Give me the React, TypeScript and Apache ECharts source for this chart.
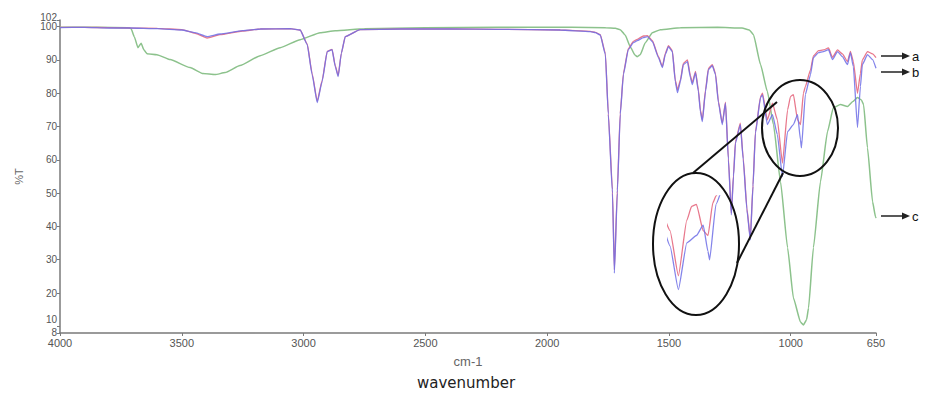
import React, { useEffect, useRef } from "react";
import * as echarts from "echarts";

// FTIR transmittance spectra: wavenumber (cm-1) vs %T
const xTicks = [4000, 3500, 3000, 2500, 2000, 1500, 1000, 650];
const yTicks = [10, 20, 30, 40, 50, 60, 70, 80, 90, 100];
const yEndTicks = [8, 102];

// spectrum a (red)
const seriesA: [number, number][] = [
  [4000, 99.8], [3900, 99.8], [3800, 99.7], [3712, 99.6], [3600, 99.5], [3500, 99.1],
  [3445, 98.0], [3396, 96.6], [3343, 97.6], [3250, 98.7], [3178, 99.3], [3055, 99.4],
  [3014, 99.0], [2985, 94.8], [2965, 86], [2944, 77.6], [2924, 83.8], [2903, 92.6],
  [2883, 93.2], [2870, 88.3], [2858, 85.3], [2845, 92], [2829, 97.0], [2768, 99.1],
  [2600, 99.3], [2398, 99.3], [2200, 99.2], [1946, 99.0], [1823, 98.6], [1802, 98.3],
  [1782, 97.6], [1761, 92], [1749, 74], [1732, 51], [1724, 27], [1712, 51], [1700, 74],
  [1687, 86], [1667, 93.4], [1646, 95.6], [1630, 96.2], [1605, 97.2], [1588, 97.3],
  [1568, 95.8], [1543, 91], [1527, 88], [1515, 92], [1502, 94.3], [1486, 92.8],
  [1474, 84], [1465, 81], [1453, 84], [1441, 89], [1424, 90], [1412, 85.3], [1404, 83.2],
  [1391, 86.6], [1379, 81], [1371, 75], [1363, 72], [1350, 81], [1338, 87.5], [1322, 88.6],
  [1309, 86], [1297, 77.6], [1281, 71], [1268, 77.3], [1256, 60.5], [1244, 44],
  [1235, 55.5], [1227, 65.5], [1207, 71], [1195, 60.5], [1180, 45.5], [1166, 36.5],
  [1155, 52.5], [1145, 68.5], [1124, 79], [1116, 80], [1096, 72], [1075, 77], [1055, 72],
  [1034, 59], [1013, 75], [1001, 79], [989, 79.6], [972, 72], [960, 70.6], [948, 80],
  [940, 82], [919, 87], [907, 91.2], [886, 92.8], [866, 93], [845, 93.6], [829, 90.8],
  [808, 93], [788, 91.8], [767, 89.5], [755, 92.6], [743, 89.5], [726, 80], [714, 86],
  [706, 90], [685, 92.5], [664, 91.8], [650, 90.7],
];

// spectrum b (blue)
const seriesB: [number, number][] = [
  [4000, 99.7], [3900, 99.8], [3800, 99.6], [3712, 99.6], [3600, 99.4], [3500, 99.0],
  [3445, 98.2], [3396, 97.0], [3343, 97.8], [3250, 98.8], [3178, 99.3], [3055, 99.4],
  [3014, 99.0], [2985, 94.6], [2965, 85.6], [2944, 77.2], [2924, 83.5], [2903, 92.5],
  [2883, 93.1], [2870, 88], [2858, 85.0], [2845, 92], [2829, 97.0], [2768, 99.1],
  [2600, 99.3], [2398, 99.3], [2200, 99.2], [1946, 99.0], [1823, 98.5], [1802, 98.2],
  [1782, 97.5], [1761, 91.6], [1749, 73.6], [1732, 50], [1724, 26.0], [1712, 50],
  [1700, 73.6], [1687, 85.6], [1667, 93.1], [1646, 95.2], [1630, 95.8], [1605, 96.7],
  [1588, 97.0], [1568, 95.5], [1543, 90.7], [1527, 87.7], [1515, 91.6], [1502, 94.0],
  [1486, 92.5], [1474, 83.5], [1465, 80.2], [1453, 83.5], [1441, 88.6], [1424, 89.5],
  [1412, 84.7], [1404, 82.6], [1391, 86.2], [1379, 80.5], [1371, 74.5], [1363, 71.5],
  [1350, 80.5], [1338, 87.1], [1322, 88.3], [1309, 85.6], [1297, 77.2], [1281, 70.6],
  [1268, 77.0], [1256, 60], [1244, 43.5], [1235, 55], [1227, 65], [1207, 70.6],
  [1195, 60], [1180, 45], [1166, 36.0], [1155, 52], [1145, 68], [1124, 78.7],
  [1116, 79.5], [1096, 70.6], [1075, 73.6], [1055, 67.6], [1034, 55], [1013, 68.5],
  [989, 70.6], [972, 73.6], [960, 66], [956, 63.6], [940, 79.6], [919, 85.6],
  [907, 90.7], [886, 92.2], [866, 92.5], [845, 93.1], [829, 90.1], [808, 92.5],
  [788, 91.0], [767, 88.6], [755, 92.2], [743, 88], [726, 69.7], [714, 82], [706, 88.6],
  [685, 91.6], [664, 90.1], [650, 87.5],
];

// spectrum c (green)
const seriesC: [number, number][] = [
  [4000, 99.8], [3850, 99.8], [3720, 99.7], [3708, 99.4], [3695, 97], [3680, 93.7],
  [3667, 95], [3655, 93], [3643, 91.9], [3602, 91.6], [3548, 90.1], [3466, 87.7],
  [3413, 85.9], [3363, 85.6], [3322, 86.2], [3261, 88.3], [3178, 91.3], [3096, 93.7],
  [3014, 96.1], [2932, 98.2], [2870, 98.8], [2750, 99.4], [2500, 99.7], [2200, 99.8],
  [1900, 99.8], [1760, 99.7], [1720, 99.5], [1700, 99.1], [1680, 97.5], [1659, 94.0],
  [1640, 91.5], [1630, 91.0], [1618, 91.6], [1597, 95.2], [1568, 98.2], [1535, 99.1],
  [1453, 99.7], [1300, 99.8], [1200, 99.6], [1170, 99.0], [1153, 97.6], [1124, 88.6],
  [1096, 80.5], [1071, 70.6], [1042, 53.4], [1013, 33.6], [989, 18.5], [960, 11.3],
  [948, 10.4], [935, 12], [927, 15.5], [907, 33.6], [878, 53.4], [849, 68.5],
  [825, 75.7], [796, 76.6], [767, 76], [745, 77.5], [726, 78.7], [710, 78], [701, 76.6],
  [685, 63.6], [664, 47.4], [652, 42.9], [650, 42.5],
];

// wavenumber window magnified inside the large ellipse
const insetRange = [930, 1060];
const insetT = [52, 82];

const RED = "#e8788c";
const BLUE = "#6e6ee6";
const GREEN = "#8cc28c";
const AXIS = "#7a7a7a";
const LABEL = "#555";
const FONT = "'Liberation Sans', Arial, sans-serif";

function arrow(y: number, label: string) {
  return [
    { type: "line", shape: { x1: 881, y1: y, x2: 903, y2: y }, style: { stroke: "#222", lineWidth: 1.5 } },
    { type: "polygon", shape: { points: [[902, y - 3.5], [910, y], [902, y + 3.5]] }, style: { fill: "#222" } },
    {
      type: "text", x: 912, y,
      style: { text: label, fill: "#111", font: `13px ${FONT}`, verticalAlign: "middle", align: "left" },
    },
  ];
}

export default function App() {
  const ref = useRef<HTMLDivElement>(null);

  useEffect(() => {
    if (!ref.current) return;
    const chart = echarts.init(ref.current, undefined, { renderer: "svg" });

    const line = (name: string, data: [number, number][], color: string, width: number, xi = 0, yi = 0, opacity = 1) => ({
      name,
      type: "line",
      data,
      xAxisIndex: xi,
      yAxisIndex: yi,
      showSymbol: false,
      symbol: "none",
      clip: true,
      smooth: 0.15,
      smoothMonotone: "x",
      lineStyle: { color, width, opacity },
      z: 2,
    });

    const labelStyle = { color: LABEL, fontSize: 10, fontFamily: FONT };

    chart.setOption({
      animation: false,
      grid: [
        { left: 60, right: 49, top: 20, bottom: 61 },
        { left: 668, top: 196, width: 52, height: 104 },
      ],
      xAxis: [
        {
          type: "value",
          inverse: true,
          min: 650,
          max: 4000,
          name: "cm-1",
          nameLocation: "middle",
          nameGap: 22,
          nameTextStyle: { color: "#666", fontSize: 13, fontFamily: FONT },
          axisLine: { lineStyle: { color: AXIS, width: 1.5 } },
          axisTick: { show: true, length: 3, customValues: xTicks, lineStyle: { color: AXIS } },
          axisLabel: {
            customValues: xTicks, color: LABEL, fontSize: 11, fontFamily: FONT, margin: 4,
            formatter: (v: number) => String(v),
          },
          splitLine: { show: false },
        },
        { type: "value", gridIndex: 1, inverse: true, min: insetRange[0], max: insetRange[1], show: false },
      ],
      yAxis: [
        {
          type: "value",
          position: "left",
          min: 8,
          max: 102,
          name: "%T",
          nameLocation: "middle",
          nameRotate: 90,
          nameGap: 36,
          nameTextStyle: { color: "#666", fontSize: 11, fontFamily: FONT },
          axisLine: { show: true, lineStyle: { color: AXIS, width: 1.5 } },
          axisTick: { show: true, length: 3, customValues: yTicks, lineStyle: { color: AXIS } },
          axisLabel: {
            customValues: yTicks, margin: 3, ...labelStyle,
            // "10" sits just above its tick, clear of the "8" end label
            formatter: (v: number) => (v === 10 ? `{up|${v}}` : String(v)),
            rich: { up: { ...labelStyle, padding: [0, 0, 14, 0] } },
          },
          splitLine: { show: false },
        },
        {
          // end values of the %T range (8 and 102)
          type: "value",
          position: "left",
          offset: 0,
          min: 8,
          max: 102,
          axisLine: { show: false },
          axisTick: { show: true, length: 3, customValues: yEndTicks, lineStyle: { color: AXIS } },
          axisLabel: {
            customValues: yEndTicks, margin: 3, ...labelStyle,
            formatter: (v: number) => (v === 102 ? `{up|${v}}` : `{lo|${v}}`),
            rich: {
              up: { ...labelStyle, padding: [0, 0, 5, 0] },
              lo: { ...labelStyle, padding: [0, 0, 2, 0] },
            },
          },
          splitLine: { show: false },
        },
        { type: "value", gridIndex: 1, min: insetT[0], max: insetT[1], show: false },
      ],
      series: [
        line("c", seriesC, GREEN, 1.5),
        line("a", seriesA, RED, 1.3),
        line("b", seriesB, BLUE, 1.3, 0, 0, 0.85),
        line("a-inset", seriesA, RED, 1.3, 1, 2),
        line("b-inset", seriesB, BLUE, 1.3, 1, 2, 0.85),
      ],
      graphic: [
        // magnifier: small ellipse around the 1100-950 cm-1 region, enlarged view on the left
        { type: "ellipse", shape: { cx: 800, cy: 128, rx: 38, ry: 48 }, style: { fill: "none", stroke: "#111", lineWidth: 2 }, z: 10 },
        { type: "ellipse", shape: { cx: 696, cy: 244, rx: 43, ry: 71 }, style: { fill: "none", stroke: "#111", lineWidth: 2 }, z: 10 },
        { type: "line", shape: { x1: 693, y1: 173, x2: 777, y2: 102 }, style: { stroke: "#111", lineWidth: 2 }, z: 10 },
        { type: "line", shape: { x1: 737, y1: 263, x2: 783, y2: 173 }, style: { stroke: "#111", lineWidth: 2 }, z: 10 },
        ...arrow(56, "a"),
        ...arrow(72, "b"),
        ...arrow(216, "c"),
        {
          type: "text", x: 466, y: 383,
          style: { text: "wavenumber", fill: "#222", font: "15px 'DejaVu Sans', sans-serif", align: "center", verticalAlign: "middle" },
        },
      ],
    });

    return () => chart.dispose();
  }, []);

  return <div ref={ref} style={{ position: "fixed", left: 0, top: 0, width: 925, height: 394, background: "#fff" }} />;
}
